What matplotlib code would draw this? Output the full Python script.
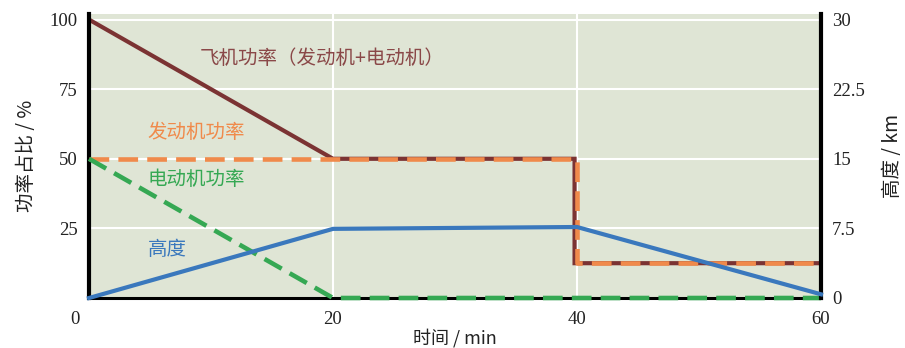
import matplotlib
matplotlib.use("Agg")
import matplotlib.pyplot as plt
import matplotlib.transforms as mtransforms
from matplotlib.ticker import FixedLocator

plt.rcParams['font.family'] = ['Liberation Serif', 'Noto Sans CJK SC', 'DejaVu Sans']

# ---- data ----
time_aircraft = [0, 20, 39.8, 39.8, 60]
aircraft_power = [100, 50, 50, 12.5, 12.5]
time_engine = [0, 40, 40, 60]
engine_power = [50, 50, 12.5, 12.5]
time_motor = [0, 20, 60]
motor_power = [50, 0, 0]
time_alt = [0, 20, 40, 60]
altitude_km = [0, 7.45, 7.65, 0.4]

x_ticks = [0, 20, 40, 60]
left_ticks = [25, 50, 75, 100]
right_ticks = [0, 7.5, 15, 22.5, 30]
right_ticklabels = ['0', '7.5', '15', '22.5', '30']

c_air = '#7b3333'
c_eng = '#f08a4b'
c_mot = '#35a853'
c_alt = '#3a78bd'
bg = '#dfe5d5'

fig = plt.figure(figsize=(9.05, 3.48), dpi=100)
ax = fig.add_axes([89/905, 50/348, (821-89)/905, (298-14)/348])
ax.set_facecolor(bg)
ax.set_xlim(0, 60)
ax.set_ylim(0, 102)

ax.plot(time_aircraft, aircraft_power, color=c_air, lw=3, solid_joinstyle='miter', zorder=2)
ax.plot(time_engine, engine_power, color=c_eng, lw=3.3, dashes=(4.3, 2.0), zorder=3)
ax.plot(time_motor, motor_power, color=c_mot, lw=3.3, dashes=(4.3, 2.0), zorder=4, clip_on=False)

ax.xaxis.set_major_locator(FixedLocator(x_ticks))
ax.yaxis.set_major_locator(FixedLocator(left_ticks))
ax.grid(True, color='white', lw=1.5)
ax.set_axisbelow(True)
ax.tick_params(length=0, labelsize=13.5, colors='#222222', pad=8)
ax.tick_params(axis='x', pad=9)
fig.canvas.draw()
for lab in ax.get_xticklabels():
    if lab.get_text() == '0':
        lab.set_horizontalalignment('center')
        lab.set_transform(lab.get_transform() +
                          mtransforms.ScaledTranslation(-14/100, 0, fig.dpi_scale_trans))
ax.spines['top'].set_visible(False)
ax.spines['right'].set_visible(False)
for s in ['left', 'bottom']:
    ax.spines[s].set_color('black')
ax.spines['left'].set_linewidth(3)
ax.spines['bottom'].set_linewidth(2.2)

ax.set_xlabel('时间 / min', fontsize=13, color='#222222',
              family=['Noto Sans CJK SC', 'Liberation Serif'], labelpad=1)
ax.set_ylabel('功率占比 / %', fontsize=14, color='#222222',
              family=['Noto Sans CJK SC', 'Liberation Serif'], labelpad=9)

ax2 = ax.twinx()
ax2.set_ylim(0, 30.6)
ax2.plot(time_alt, altitude_km, color=c_alt, lw=3, zorder=5, clip_on=False)
ax2.yaxis.set_major_locator(FixedLocator(right_ticks))
ax2.set_yticklabels(right_ticklabels)
ax2.tick_params(length=0, labelsize=13.5, colors='#222222', pad=8)
for s in ['top', 'left', 'bottom']:
    ax2.spines[s].set_visible(False)
ax2.spines['right'].set_linewidth(3)
ax2.spines['right'].set_color('black')
ax2.set_ylabel('高度 / km', fontsize=14, color='#222222',
               family=['Noto Sans CJK SC', 'Liberation Serif'], labelpad=12)

cjk = ['Noto Sans CJK SC', 'DejaVu Sans']
ax.text(9.1, 86, '飞机功率（发动机+电动机）', color='#8a4848', fontsize=14,
        family=cjk, va='center', ha='left')
ax.text(4.8, 59.5, '发动机功率', color=c_eng, fontsize=14, family=cjk, va='center')
ax.text(4.8, 42.5, '电动机功率', color=c_mot, fontsize=14, family=cjk, va='center')
ax.text(4.8, 17.5, '高度', color=c_alt, fontsize=14, family=cjk, va='center')

fig.savefig('out.png', dpi=100)
